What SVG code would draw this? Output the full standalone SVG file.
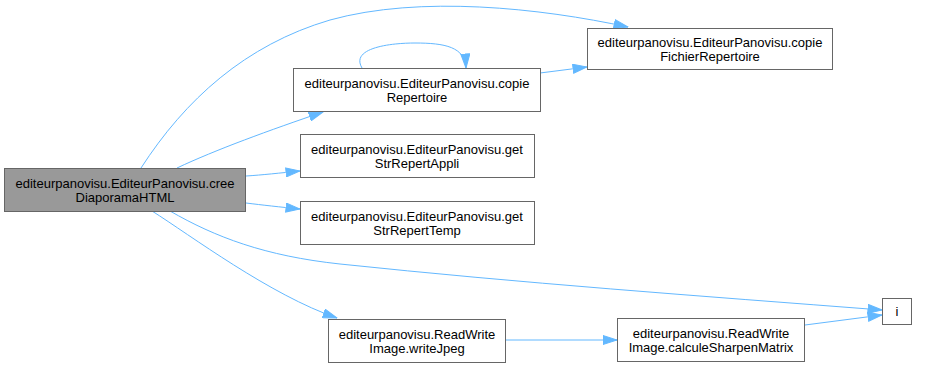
<svg xmlns="http://www.w3.org/2000/svg" width="926" height="367" viewBox="0 0 926 367">
  <style>
    .node rect { fill: #ffffff; stroke: #666666; stroke-width: 1; }
    .node.current rect { fill: #999999; }
    .node text { font-family: "Liberation Sans", Arial, sans-serif; font-size: 13px; fill: #000000; text-anchor: middle; }
    .edge { fill: none; stroke: #63b8ff; stroke-width: 1; marker-end: url(#arrow); }
  </style>
  <defs>
    <marker id="arrow" markerUnits="userSpaceOnUse" markerWidth="15" markerHeight="10" refX="14.5" refY="5" orient="auto" viewBox="0 0 15 10">
      <path d="M0.5,0.5 L14.5,5 L0.5,9.5 z" fill="#63b8ff" stroke="#63b8ff" stroke-width="1"/>
    </marker>
  </defs>
  <rect width="926" height="367" fill="#ffffff"/>

  <g id="edges">
    <path class="edge" d="M141,168 C185,100 245,45 330,20 C420,-5 540,8 628,27"/>
    <path class="edge" d="M177,168 C215,150 270,130 323,112"/>
    <path class="edge" d="M246,176 C262,175 280,173 300,171"/>
    <path class="edge" d="M246,203 C262,205 280,207 300,209"/>
    <path class="edge" d="M170,211 C215,237 265,256 340,264 C520,283 700,296 882,310"/>
    <path class="edge" d="M152,211 C190,235 270,295 337,318"/>
    <path class="edge" d="M362,68 C350,48 390,43 415,43 C445,43 465,47 466,68"/>
    <path class="edge" d="M540,73 L587,67"/>
    <path class="edge" d="M505,340 L617,340"/>
    <path class="edge" d="M805,325 L882,315"/>
  </g>

  <g id="creeDiaporamaHTML" class="node current">
    <rect x="4.5" y="168.5" width="241" height="43"/>
    <text x="125" y="188">editeurpanovisu.EditeurPanovisu.cree</text>
    <text x="125" y="202">DiaporamaHTML</text>
  </g>
  <g id="copieRepertoire" class="node">
    <rect x="293.5" y="68.5" width="247" height="43"/>
    <text x="417" y="88">editeurpanovisu.EditeurPanovisu.copie</text>
    <text x="417" y="102">Repertoire</text>
  </g>
  <g id="copieFichierRepertoire" class="node">
    <rect x="587.5" y="28.5" width="245" height="41"/>
    <text x="710" y="47">editeurpanovisu.EditeurPanovisu.copie</text>
    <text x="710" y="61">FichierRepertoire</text>
  </g>
  <g id="getStrRepertAppli" class="node">
    <rect x="300.5" y="134.5" width="234" height="43"/>
    <text x="417" y="154">editeurpanovisu.EditeurPanovisu.get</text>
    <text x="417" y="168">StrRepertAppli</text>
  </g>
  <g id="getStrRepertTemp" class="node">
    <rect x="300.5" y="201.5" width="234" height="43"/>
    <text x="417" y="221">editeurpanovisu.EditeurPanovisu.get</text>
    <text x="417" y="235">StrRepertTemp</text>
  </g>
  <g id="writeJpeg" class="node">
    <rect x="328.5" y="319.5" width="177" height="43"/>
    <text x="417" y="339">editeurpanovisu.ReadWrite</text>
    <text x="417" y="353">Image.writeJpeg</text>
  </g>
  <g id="calculeSharpenMatrix" class="node">
    <rect x="617.5" y="318.5" width="187" height="43"/>
    <text x="711" y="338">editeurpanovisu.ReadWrite</text>
    <text x="711" y="352">Image.calculeSharpenMatrix</text>
  </g>
  <g id="i" class="node">
    <rect x="882.5" y="298.5" width="29" height="26"/>
    <text x="897" y="316">i</text>
  </g>
</svg>
